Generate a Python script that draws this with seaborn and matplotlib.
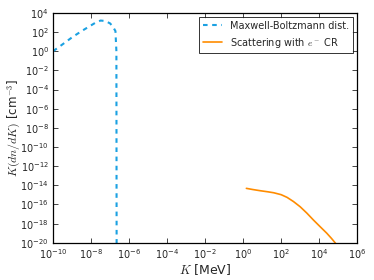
import numpy as np
import pandas as pd
import seaborn as sns
import matplotlib.pyplot as plt

# data (log10 values)
mb_logK = [-10.0, -9.5, -9.0, -8.5, -8.0, -7.75, -7.5, -7.25, -7.0, -6.85, -6.72, -6.67, -6.655]
mb_logY = [0.0, 0.72, 1.45, 2.1, 2.7, 3.0, 3.2, 3.15, 2.9, 2.55, 2.1, 0.0, -25.0]

cr_logK = [0.17, 0.5, 0.91, 1.3, 1.61, 2.0, 2.31, 2.65, 3.0, 3.35, 3.7, 4.05, 4.4, 4.65, 4.86]
cr_logY = [-14.32, -14.44, -14.57, -14.68, -14.78, -14.98, -15.26, -15.7, -16.24, -16.9, -17.63, -18.32, -19.0, -19.55, -20.05]

mb = pd.DataFrame({"K": 10.0 ** np.array(mb_logK), "y": 10.0 ** np.array(mb_logY)})
cr = pd.DataFrame({"K": 10.0 ** np.array(cr_logK), "y": 10.0 ** np.array(cr_logY)})

sns.set_style("ticks")
plt.rcParams["font.family"] = ["DejaVu Sans"]
plt.rcParams["mathtext.fontset"] = "cm"
plt.rcParams["mathtext.default"] = "it"

fig = plt.figure(figsize=(3.74, 2.8), dpi=100)
ax = fig.add_axes([0.142, 0.133, 0.813, 0.821])

sns.lineplot(data=mb, x="K", y="y", ax=ax, color="#1ba1e2", lw=1.5,
             label="Maxwell-Boltzmann dist.", sort=False)
ax.lines[0].set_linestyle((0, (2.2, 2.2)))
sns.lineplot(data=cr, x="K", y="y", ax=ax, color="#ff8c00", lw=1.2,
             label=r"Scattering with $e^-$ CR", sort=False)

ax.set_xscale("log")
ax.set_yscale("log")
ax.set_xlim(1e-10, 1e6)
ax.set_ylim(1e-20, 1e4)
ax.set_xticks([10.0 ** i for i in range(-10, 7, 2)])
ax.set_yticks([10.0 ** i for i in range(-20, 5, 2)])
ax.minorticks_off()
ax.tick_params(direction="in", top=True, right=True, labelsize=7, length=3.5, width=0.6, pad=3)
for s in ax.spines.values():
    s.set_linewidth(0.9)
    s.set_color("black")

ax.set_xlabel(r"$K$ [MeV]", fontsize=9, labelpad=1)
ax.set_ylabel(r"$K(dn/dK)$ [cm$^{-3}$]", fontsize=8.5)
ax.yaxis.set_label_coords(-0.1, 0.5)

leg = ax.legend(loc="upper right", fontsize=7, frameon=True, fancybox=False,
                borderaxespad=0.4, handlelength=2.0)
leg.get_frame().set_edgecolor("black")
leg.get_frame().set_linewidth(0.7)
leg.get_lines()[0].set_linestyle((0, (2.2, 2.2)))

fig.savefig("out.png", dpi=100)
